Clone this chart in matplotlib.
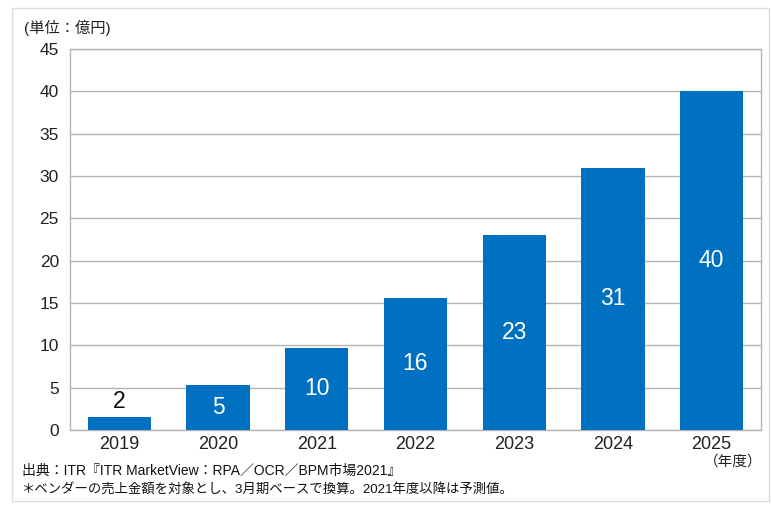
import matplotlib
matplotlib.use('Agg')
import matplotlib.pyplot as plt
from matplotlib.patches import Rectangle

plt.rcParams['font.family'] = ['Liberation Sans', 'Noto Sans CJK JP', 'DejaVu Sans']

years = ['2019', '2020', '2021', '2022', '2023', '2024', '2025']
values = [1.5, 5.3, 9.7, 15.6, 23.0, 31.0, 40.0]
labels = ['2', '5', '10', '16', '23', '31', '40']
yticks = [0, 5, 10, 15, 20, 25, 30, 35, 40, 45]

bar_color = '#0070C0'
grid_color = '#b4b4b4'

fig = plt.figure(figsize=(7.72, 5.05), dpi=100)
# light frame around the whole picture
fig.patches.append(Rectangle((12 / 772, 4 / 505), 757 / 772, 493 / 505,
                             transform=fig.transFigure, fill=False,
                             edgecolor='#dcdcdc', linewidth=1.0))

ax = fig.add_axes([70 / 772, 75 / 505, 691 / 772, 381 / 505])
x = list(range(len(years)))
ax.bar(x, values, width=0.64, color=bar_color, zorder=3)

for i, (v, lab) in enumerate(zip(values, labels)):
    if v < 3:
        ax.text(i, v + 0.5, lab, ha='center', va='bottom', fontsize=16.5, color='#111111', zorder=4)
    else:
        ax.text(i, v / 2, lab, ha='center', va='center', fontsize=16.5, color='white', zorder=4)

ax.set_xlim(-0.5, len(years) - 0.5)
ax.set_ylim(0, 45)
ax.set_yticks(yticks)
ax.set_xticks(x)
ax.set_xticklabels(years)
ax.tick_params(axis='both', length=0, colors='#222222')
ax.tick_params(axis='y', pad=8, labelsize=12.5)
ax.tick_params(axis='x', pad=4, labelsize=13)
ax.yaxis.grid(True, color=grid_color, linewidth=1.0, zorder=0)
for s in ax.spines.values():
    s.set_color(grid_color)
    s.set_linewidth(1.0)

fig.text(24 / 772, 1 - 28 / 505, '(単位：億円)', fontsize=11, va='center', ha='left', color='#222222')
fig.text(762 / 772, 1 - 462 / 505, '（年度）', fontsize=10.5, va='center', ha='right', color='#222222')
fig.text(22 / 772, 1 - 471 / 505, '出典：ITR『ITR MarketView：RPA／OCR／BPM市場2021』',
         fontsize=10, va='center', ha='left', color='#111111')
fig.text(22 / 772, 1 - 489 / 505, '＊ベンダーの売上金額を対象とし、3月期ベースで換算。2021年度以降は予測値。',
         fontsize=9.6, va='center', ha='left', color='#111111')

fig.savefig('out.png', dpi=100)
